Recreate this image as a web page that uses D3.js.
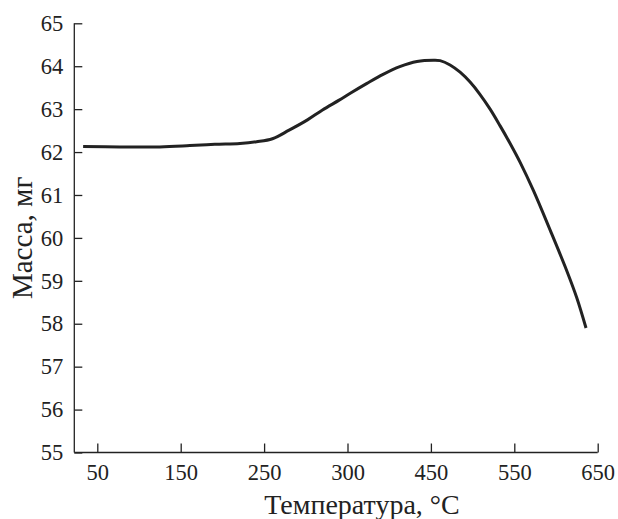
<!DOCTYPE html>
<html lang="ru">
<head>
<meta charset="UTF-8">
<title>Масса от температуры</title>
<script src="https://cdn.jsdelivr.net/npm/d3@7/dist/d3.min.js"></script>
<style>
  body { margin: 0; background: #fff; }
  svg { display: block; }
  .axis path, .axis line { stroke: #222; stroke-width: 1.3px; }
  .curve { fill: none; stroke: #222; stroke-width: 3px; }
</style>
</head>
<body>
<div id="chart"></div>
<script>
// подписи оси X (идут с равным шагом, хотя значения неравномерны)
const xTicks = [50, 150, 250, 300, 450, 550, 650];
const yTicks = [55, 56, 57, 58, 59, 60, 61, 62, 63, 64, 65];

// кривая ТГ
const temp = [33, 77, 125, 161, 191, 221, 241, 255, 265, 276, 285, 295, 305,
              335, 364, 394, 425, 453, 461, 473, 485, 497, 509, 521, 533,
              545, 557, 573, 593, 613, 625, 636];
const mass = [62.13, 62.12, 62.12, 62.15, 62.18, 62.20, 62.24, 62.31, 62.51,
              62.75, 62.98, 63.21, 63.37, 63.60, 63.81, 63.99, 64.11, 64.14,
              64.13, 64.03, 63.86, 63.63, 63.34, 63.00, 62.61, 62.20, 61.76,
              61.10, 60.18, 59.23, 58.60, 57.90];

const W = 618, H = 519;
const mLeft = 74.3, mRight = 597.7, mTop = 23.3, mBottom = 452.5;
const firstTick = 97.3;   // где стоит «50»
const serif = "'Liberation Serif', 'Times New Roman', serif";

const svg = d3.select("#chart").append("svg")
    .attr("width", W).attr("height", H);

// шкала X кусочно-линейная: метки стоят через равный шаг
const step = (mRight - firstTick) / (xTicks.length - 1);
const x = d3.scaleLinear()
    .domain(xTicks)
    .range(xTicks.map((d, i) => firstTick + i * step));

const y = d3.scaleLinear().domain([55, 65]).range([mBottom, mTop]);

// ось X
const gx = svg.append("g").attr("class", "axis")
    .attr("transform", `translate(0,${mBottom})`)
    .call(d3.axisBottom(x).tickValues(xTicks).tickFormat(d3.format("d"))
        .tickSize(-9).tickSizeOuter(0).tickPadding(12));
gx.select(".domain").remove();
gx.append("line").attr("x1", mLeft).attr("x2", mRight);

// ось Y
const gy = svg.append("g").attr("class", "axis")
    .attr("transform", `translate(${mLeft},0)`)
    .call(d3.axisLeft(y).tickValues(yTicks).tickFormat(d3.format("d"))
        .tickSize(-8).tickSizeOuter(0).tickPadding(11));
gy.select(".domain").remove();
gy.append("line").attr("y1", mTop).attr("y2", mBottom);

svg.selectAll(".axis text")
    .style("font-family", serif)
    .style("font-size", "22.5px")
    .attr("fill", "#222");

// кривая
const pts = temp.map((t, i) => [t, mass[i]]);
svg.append("path")
    .attr("class", "curve")
    .attr("d", d3.line()
        .x(d => x(d[0]))
        .y(d => y(d[1]))
        .curve(d3.curveCatmullRom.alpha(0.5))(pts));

// подписи осей
svg.append("text")
    .attr("x", 362).attr("y", 514)
    .attr("text-anchor", "middle")
    .style("font-family", serif).style("font-size", "28px").attr("fill", "#222")
    .text("Температура, °C");

svg.append("text")
    .attr("transform", `translate(32,${(mTop + mBottom) / 2}) rotate(-90)`)
    .attr("text-anchor", "middle")
    .style("font-family", serif).style("font-size", "29px").attr("fill", "#222")
    .text("Масса, мг");
</script>
</body>
</html>
